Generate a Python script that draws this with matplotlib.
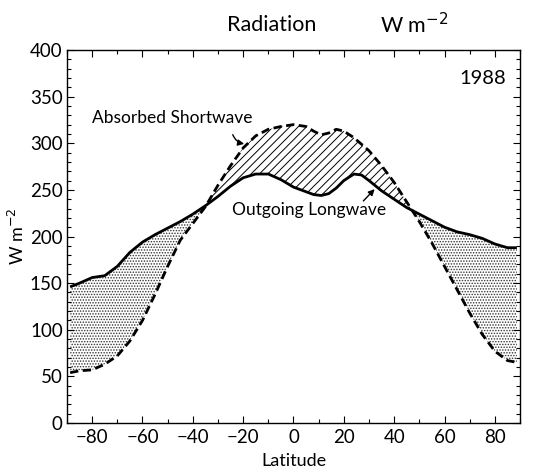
import matplotlib
matplotlib.use("Agg")
import matplotlib.pyplot as plt
import numpy as np
from matplotlib.ticker import MultipleLocator

plt.rcParams['font.family'] = ['Lato', 'DejaVu Sans']
plt.rcParams['hatch.linewidth'] = 0.7

# Data
lat = [-88.75, -85, -80, -75, -70, -65, -60, -55, -50, -45, -40, -35, -30, -25,
       -20, -15, -10, -5, 0, 5, 8, 11, 14, 17, 20, 24, 27, 30, 35, 40, 45, 50,
       55, 60, 65, 70, 75, 80, 85, 88.75]
olr = [146, 150, 156, 158, 168, 183, 194, 202, 209, 216, 224, 233, 243, 254,
       263, 267, 267, 261, 253, 248, 245, 244, 246, 252, 260, 267, 266, 260,
       249, 240, 231, 224, 217, 210, 205, 202, 198, 192, 188, 188]
asw = [54, 56, 57, 63, 72, 88, 110, 138, 168, 196, 214, 232, 255, 276,
       295, 308, 315, 318, 320, 318, 313, 309, 311, 315, 313, 306, 299, 292,
       276, 258, 237, 216, 193, 168, 143, 118, 95, 77, 67, 65]

xticks = [-80, -60, -40, -20, 0, 20, 40, 60, 80]
yticks = [0, 50, 100, 150, 200, 250, 300, 350, 400]

lat_a = np.array(lat)
olr_a = np.array(olr)
asw_a = np.array(asw)

fig = plt.figure(figsize=(5.6, 4.72), dpi=100)
ax = fig.add_axes([0.1196, 0.1038, 0.8090, 0.7902])

ax.fill_between(lat_a, olr_a, asw_a, where=asw_a >= olr_a, interpolate=True,
                facecolor='none', edgecolor='black', hatch='////', linewidth=0)
ax.fill_between(lat_a, olr_a, asw_a, where=olr_a >= asw_a, interpolate=True,
                facecolor='none', edgecolor='#333333', hatch='......', linewidth=0)

ax.plot(lat_a, olr_a, color='black', lw=2.0, solid_capstyle='butt')
ax.plot(lat_a, asw_a, color='black', lw=2.0, dashes=[3, 1.6])

ax.set_xlim(-90, 90)
ax.set_ylim(0, 400)
ax.set_xticks(xticks)
ax.set_xticklabels([f"\u2212{abs(v)}" if v < 0 else str(v) for v in xticks])
ax.set_yticks(yticks)
ax.xaxis.set_minor_locator(MultipleLocator(10))
ax.yaxis.set_minor_locator(MultipleLocator(10))
ax.tick_params(which='both', direction='in', top=True, right=True,
               labelsize=13.5, width=0.8)
ax.tick_params(which='major', length=5)
ax.tick_params(which='minor', length=3)
ax.tick_params(axis='x', pad=4)
ax.tick_params(axis='y', pad=3)
for s in ax.spines.values():
    s.set_linewidth(1.0)

ax.set_xlabel("Latitude", fontsize=13, labelpad=5)
ax.set_ylabel("W m$^{-2}$", fontsize=13, labelpad=2)

fig.text(0.486, 0.947, "Radiation", fontsize=15.5, ha='center', va='center')
fig.text(0.739, 0.947, "W m$^{-2}$", fontsize=15.5, ha='center', va='center')

ax.text(84.5, 370, "1988", fontsize=14.5, ha='right', va='center')

ax.text(-80, 327, "Absorbed Shortwave", fontsize=12.5, ha='left', va='center')
ax.annotate("", xy=(-18.5, 299), xytext=(-24.5, 312),
            arrowprops=dict(arrowstyle='-|>', color='black', lw=1.0,
                            connectionstyle='arc3,rad=0.35', mutation_scale=9))
ax.text(-24.4, 228, "Outgoing Longwave", fontsize=12.5, ha='left', va='center')
ax.annotate("", xy=(33, 253), xytext=(27, 236),
            arrowprops=dict(arrowstyle='-|>', color='black', lw=1.0,
                            mutation_scale=9))

fig.savefig("out.png", dpi=100)
